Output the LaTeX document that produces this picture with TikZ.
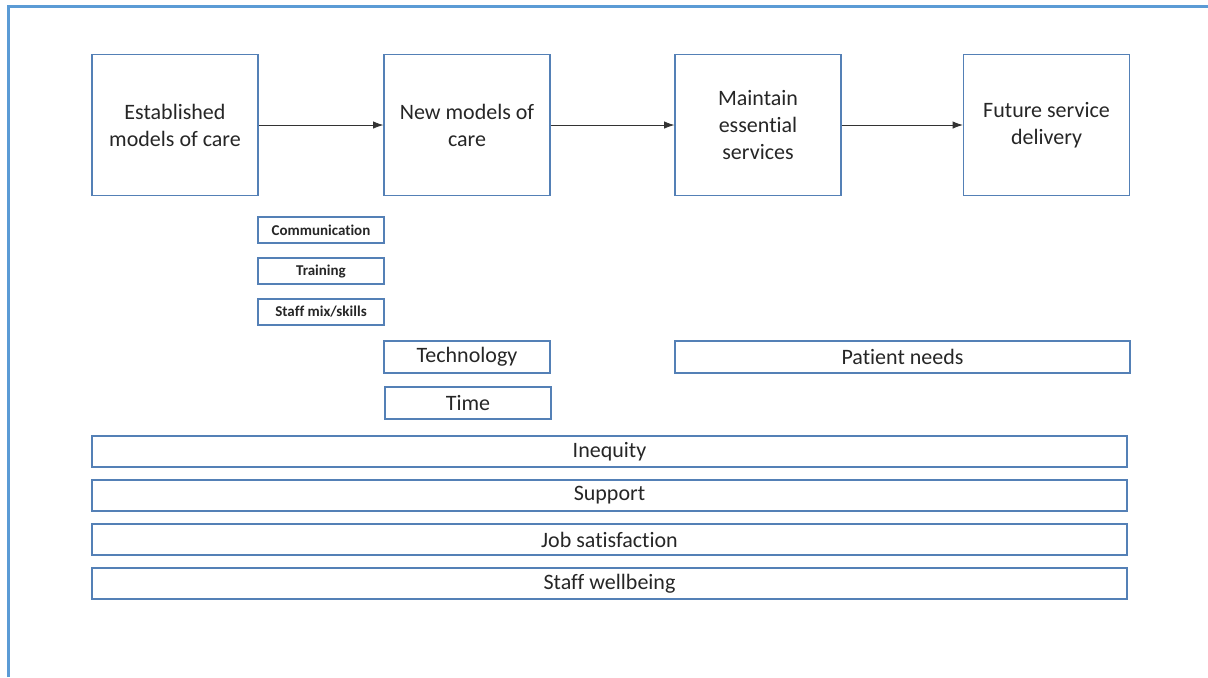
\documentclass[tikz,border=0pt]{standalone}
\usepackage{fontspec}
\setmainfont{Carlito}[Ligatures={NoCommon,NoContextual}]
\usetikzlibrary{arrows.meta,positioning}
\definecolor{boxblue}{RGB}{84,128,182}
\definecolor{frameblue}{RGB}{91,155,213}
\definecolor{txtgrey}{RGB}{38,38,38}
\tikzset{
  >={Latex[length=1.8mm,width=1.3mm]},
  stagebox/.style={draw=boxblue,line width=0.6pt,minimum width=83pt,
    minimum height=70.5pt,align=center,text=txtgrey,inner sep=2pt,
    font=\fontsize{11}{13.5}\selectfont},
  factorbox/.style={draw=boxblue,line width=0.6pt,minimum height=16pt,
    text=txtgrey,inner sep=1pt,font=\fontsize{11}{13.5}\selectfont},
  smallbox/.style={draw=boxblue,line width=0.6pt,minimum width=63pt,
    minimum height=13pt,text=txtgrey,inner sep=1pt,
    font=\fontsize{7.5}{9}\selectfont\bfseries},
  barbox/.style={factorbox,minimum width=517.5pt,minimum height=15.5pt},
  flow/.style={->,line width=0.4pt,black!80},
}
\begin{document}
\begin{tikzpicture}[x=0.5pt,y=-0.5pt]
  \useasboundingbox (0,0) rectangle (1208,677);
  % outer frame
  \draw[frameblue,line width=1.5pt] (8,677) -- (8,6) -- (1208,6);

  % stages
  \node[stagebox] (established) at (175,125) {Established\\models of care};
  \node[stagebox] (newmodels) at (467,125) {New models of\\care};
  \node[stagebox] (maintain) at (758,125) {Maintain\\essential\\services};
  \node[stagebox] (future) at (1046.5,125) {Future service\\delivery};
  \draw[flow] (established) -- (newmodels);
  \draw[flow] (newmodels) -- (maintain);
  \draw[flow] (maintain) -- (future);

  % factors
  \node[smallbox] (comm) at (321,230) {Communication};
  \node[smallbox] (training) at (321,271) {Training};
  \node[smallbox] (staffmix) at (321,312) {Staff mix/skills};
  \node[factorbox,minimum width=83pt] (technology) at (467,357) {Technology};
  \node[factorbox,minimum width=83pt] (time) at (468,403) {Time};
  \node[factorbox,minimum width=227.5pt] (patient) at (902.5,357) {Patient needs};

  % cross-cutting bars
  \foreach \i/\y/\lab in {1/451.5/Inequity, 2/495.5/Support,
      3/539.5/Job satisfaction, 4/583.5/Staff wellbeing} {
    \node[barbox] (bar\i) at (609.5,\y) {\lab};
  }
\end{tikzpicture}
\end{document}
